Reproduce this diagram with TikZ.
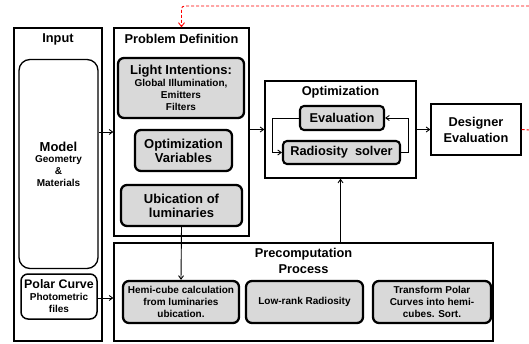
\documentclass[tikz,border=0pt]{standalone}
\usepackage{fontspec}
\setmainfont{Liberation Sans}
\usetikzlibrary{arrows.meta}
\definecolor{boxgray}{HTML}{D9D9D9}
\begin{document}
\begin{tikzpicture}[x=1pt,y=-1pt,
  font=\bfseries,
  outerbox/.style={draw, line width=1.3pt, inner sep=0pt, fill=white},
  graybox/.style={draw, line width=2.3pt, rounded corners=6pt, fill=boxgray, inner sep=0pt, align=center},
  whitebox/.style={draw, line width=1.3pt, rounded corners=7pt, fill=white, inner sep=0pt, align=center},
  ttl/.style={font=\fontsize{12.8}{14}\selectfont\bfseries, align=center, inner sep=0pt},
  big/.style={font=\fontsize{13}{14}\selectfont\bfseries},
  small/.style={font=\fontsize{10}{12}\selectfont\bfseries},
  arr/.style={-{Straight Barb[length=3.5pt,width=5pt]}, line width=0.9pt},
  reddash/.style={red, dashed, dash pattern=on 3pt off 2pt, line width=0.9pt, -{Straight Barb[length=4pt,width=6pt]}}
]
\useasboundingbox (0,0) rectangle (529,344);
% outer boxes
\node[outerbox, minimum width=88, minimum height=313] (input) at (58,184.5) {};
\node[outerbox, minimum width=135, minimum height=208] (probdef) at (181.5,132) {};
\node[outerbox, minimum width=151, minimum height=97] (optim) at (340.5,129.5) {};
\node[outerbox, minimum width=90, minimum height=51, ttl, font=\fontsize{12.8}{16}\selectfont\bfseries] (designer) at (476,129.5) {Designer\\Evaluation};
\node[outerbox, minimum width=379, minimum height=98] (precomp) at (303.5,292) {};
% titles
\node[ttl] (inputt) at (58,39) {Input};
\node[ttl] (probdeft) at (181.5,39) {Problem Definition};
\node[ttl] (optimt) at (340.5,92) {Optimization};
\node[ttl, font=\fontsize{12.8}{16}\selectfont\bfseries] (precompt) at (303.5,261) {Precomputation\\Process};
% input column
\node[whitebox, rounded corners=11pt, minimum width=79, minimum height=209] (model) at (58.5,164)
  {{\fontsize{13}{14}\selectfont Model}\\[-1pt]{\fontsize{10}{11.5}\selectfont Geometry}\\{\fontsize{10}{11.5}\selectfont \&}\\{\fontsize{10}{11.5}\selectfont Materials}};
\node[whitebox, line width=1.5pt, minimum width=76, minimum height=45] (polar) at (59,296.5)
  {{\fontsize{12.4}{13}\selectfont Polar Curve}\\{\fontsize{10}{12}\selectfont Photometric}\\{\fontsize{10}{12}\selectfont files}};
% problem definition
\node[graybox, minimum width=126, minimum height=60] (light) at (181,88)
  {{\fontsize{13}{13}\selectfont Light Intentions:}\\{\fontsize{10}{12}\selectfont Global Illumination,}\\{\fontsize{10}{12}\selectfont Emitters}\\{\fontsize{10}{12}\selectfont Filters}};
\node[graybox, minimum width=97, minimum height=41, big] (optvar) at (183.5,150.5) {Optimization\\Variables};
\node[graybox, minimum width=121, minimum height=41, big] (ubic) at (181.5,205.5) {Ubication of\\luminaries};
% optimization
\node[graybox, line width=2.1pt, rounded corners=4pt, minimum width=84, minimum height=24, ttl] (eval) at (342,118) {Evaluation};
\node[graybox, line width=2.1pt, rounded corners=4pt, minimum width=117, minimum height=23, ttl] (rad) at (341.5,152.5) {Radiosity\ \ solver};
% precomputation
\node[graybox, minimum width=116, minimum height=42, small] (hemi) at (181,302) {Hemi-cube calculation\\from luminaries\\ubication.};
\node[graybox, minimum width=117, minimum height=42, small] (lowrank) at (304.5,302) {Low-rank Radiosity};
\node[graybox, minimum width=118, minimum height=42, small] (transform) at (432,302) {Transform Polar\\Curves into hemi-\\cubes. Sort.};
% connectors
\draw[arr] (model.east |- 0,132) -- (probdef.west |- 0,132);
\draw[arr] (polar.east |- 0,298) -- (precomp.west |- 0,298);
\draw[arr] (optim.west -| probdef.east) -- (optim.west);
\draw[arr] (optim.east) -- (designer.west);
\draw[arr] (ubic.south) -- (hemi.north);
\draw[arr] (precomp.north -| optim.south) -- (optim.south);
\draw[arr] (eval.west) -- ++(-27,0) |- (rad.west);
\draw[arr] (rad.east) -- ++(7,0) |- (eval.east);
% red feedback
\coordinate (redR) at (529,130);
\coordinate (redT) at (529,6);
\draw[red, dashed, dash pattern=on 3pt off 2pt, line width=0.9pt] (designer.east) -- (redR);
\draw[reddash, rounded corners=3pt] (redT) -- (probdef.north |- redT) -- (probdef.north);
\end{tikzpicture}
\end{document}
